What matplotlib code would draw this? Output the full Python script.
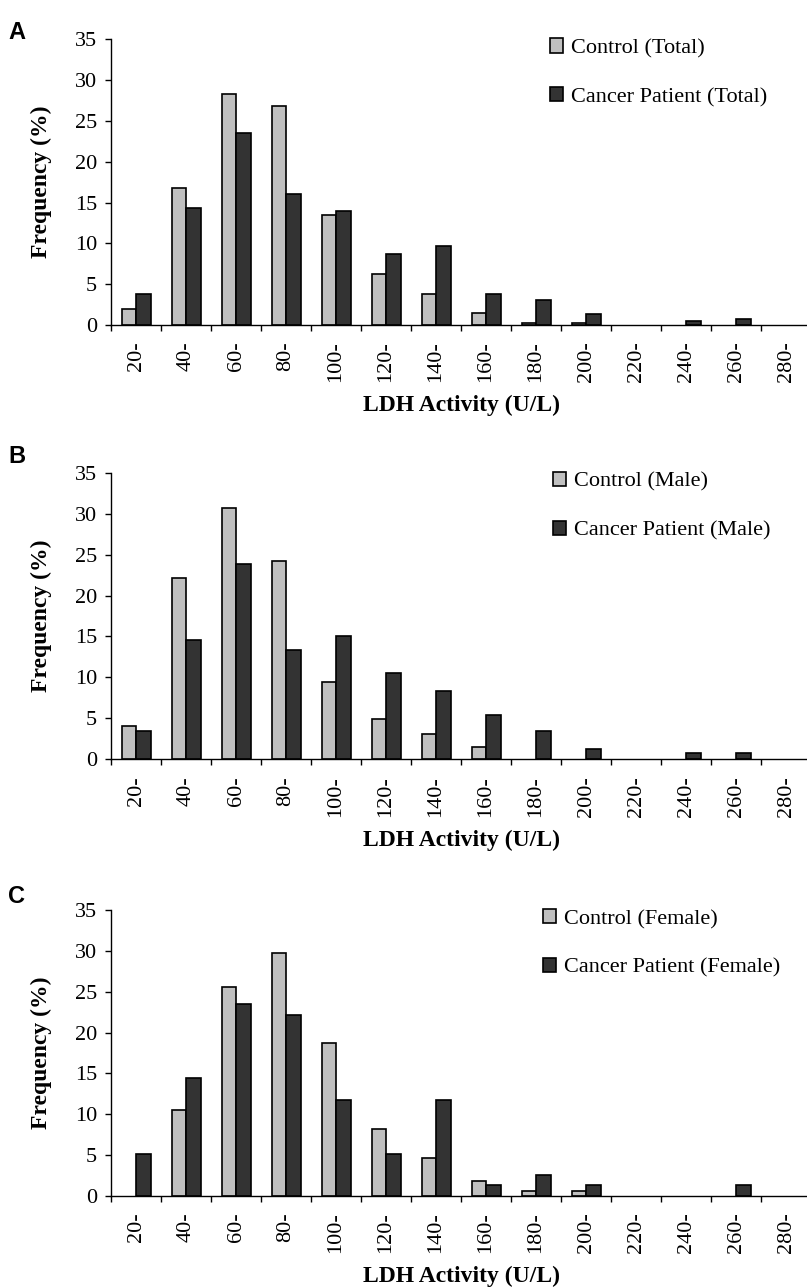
import numpy as np
import matplotlib
matplotlib.use("Agg")
import matplotlib.pyplot as plt
from matplotlib.patches import Patch

# ---------------------------------------------------------------------------
# Data (frequency %)
# ---------------------------------------------------------------------------
BINS = ["20-", "40-", "60-", "80-", "100-", "120-", "140-",
        "160-", "180-", "200-", "220-", "240-", "260-", "280-"]

CONTROL_TOTAL = [2.0, 16.8, 28.3, 26.8, 13.5, 6.3, 3.8, 1.5, 0.3, 0.3, 0, 0, 0, 0]
CANCER_TOTAL = [3.8, 14.3, 23.5, 16.1, 14.0, 8.7, 9.7, 3.8, 3.1, 1.3, 0, 0.5, 0.75, 0]

CONTROL_MALE = [4.1, 22.2, 30.7, 24.2, 9.4, 4.9, 3.1, 1.5, 0, 0, 0, 0, 0, 0]
CANCER_MALE = [3.4, 14.6, 23.8, 13.3, 15.1, 10.5, 8.4, 5.4, 3.4, 1.3, 0, 0.8, 0.8, 0]

CONTROL_FEMALE = [0, 10.5, 25.6, 29.7, 18.7, 8.2, 4.6, 1.8, 0.6, 0.6, 0, 0, 0, 0]
CANCER_FEMALE = [5.1, 14.4, 23.5, 22.1, 11.8, 5.1, 11.8, 1.3, 2.6, 1.3, 0, 0, 1.3, 0]

PANELS = [
    ("A", CONTROL_TOTAL, CANCER_TOTAL, "Total"),
    ("B", CONTROL_MALE, CANCER_MALE, "Male"),
    ("C", CONTROL_FEMALE, CANCER_FEMALE, "Female"),
]

C_CONTROL = "#c0c0c0"
C_CANCER = "#333333"

SERIF = ["Liberation Serif", "DejaVu Serif"]
SANS = ["Liberation Sans", "DejaVu Sans"]

W, H = 807, 1287
# (top px, bottom px, legend x px, letter baseline px)
LAYOUT = [(39.3, 325.0, 550, 39), (472.7, 759.3, 553, 463), (910.0, 1196.0, 543, 903)]
AX_LEFT, AX_RIGHT = 111, 811


def nz(vals):
    a = np.asarray(vals, dtype=float)
    a[a == 0] = np.nan
    return a


fig = plt.figure(figsize=(W / 100, H / 100), dpi=100)
x = np.arange(len(BINS))
bw = 0.29

for (letter, ctrl, canc, grp), (top, bot, leg_x, let_y) in zip(PANELS, LAYOUT):
    ax = fig.add_axes([AX_LEFT / W, 1 - bot / H, (AX_RIGHT - AX_LEFT) / W, (bot - top) / H])
    ax.bar(x - bw / 2, nz(ctrl), width=bw, color=C_CONTROL, edgecolor="black",
           linewidth=1.2, label=f"Control ({grp})")
    ax.bar(x + bw / 2, nz(canc), width=bw, color=C_CANCER, edgecolor="black",
           linewidth=1.2, label=f"Cancer Patient ({grp})")

    ax.set_xlim(-0.5, len(BINS) - 0.5)
    ax.set_ylim(0, 35)
    ax.set_yticks(range(0, 36, 5))
    ax.set_xticks(np.arange(-0.5, len(BINS), 1.0))
    ax.set_xticklabels([])
    ax.set_xticks(x, minor=True)
    ax.set_xticklabels(BINS, minor=True, rotation=90, fontfamily=SERIF, fontsize=16)
    ax.tick_params(axis="x", which="major", direction="out", length=4.5, width=1)
    ax.tick_params(axis="x", which="minor", length=0, pad=12)
    ax.tick_params(axis="y", direction="out", length=4.5, width=1, pad=5.5)
    for t in ax.get_yticklabels():
        t.set_fontfamily(SERIF)
        t.set_fontsize(16)

    ax.spines["top"].set_visible(False)
    ax.spines["right"].set_visible(False)
    ax.spines["left"].set_linewidth(1)
    ax.spines["bottom"].set_linewidth(1)

    ax.set_ylabel("Frequency (%)", fontfamily=SERIF, fontsize=17, fontweight="bold")
    ax.yaxis.set_label_coords(-0.084, 0.5)
    ax.set_xlabel("LDH Activity (U/L)", fontfamily=SERIF, fontsize=17, fontweight="bold")
    ax.xaxis.set_label_coords(0.5, -0.245)

    ax.legend(
        handles=[Patch(facecolor=C_CONTROL, edgecolor="black", linewidth=1.2, label=f"Control ({grp})"),
                 Patch(facecolor=C_CANCER, edgecolor="black", linewidth=1.2, label=f"Cancer Patient ({grp})")],
        loc="upper left",
        bbox_to_anchor=((leg_x - AX_LEFT) / (AX_RIGHT - AX_LEFT), 1.003),
        frameon=False,
        borderpad=0,
        borderaxespad=0,
        handlelength=0.6,
        handleheight=0.6,
        handletextpad=0.35,
        labelspacing=1.3,
        prop={"family": SERIF, "size": 16},
    )

    fig.text(8 / W, 1 - let_y / H, letter, fontfamily=SANS, fontsize=17,
             fontweight="bold", ha="left", va="baseline")

fig.savefig("out.png", dpi=100)
